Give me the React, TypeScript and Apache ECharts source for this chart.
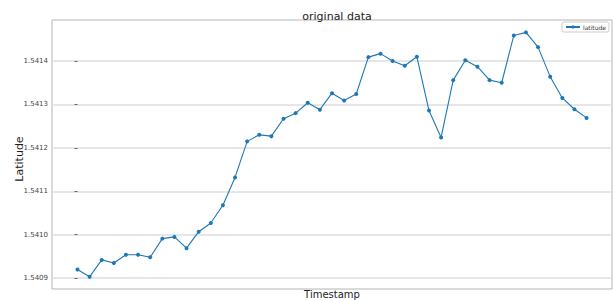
import React, { useEffect, useRef } from "react";
import * as echarts from "echarts";

const seriesName = "latitude";
const titleText = "original data";
const xAxisName = "Timestamp";
const yAxisName = "Latitude";

const latitude: number[] = [
  1.54092, 1.540903, 1.540942, 1.540935, 1.540954, 1.540954, 1.540948, 1.540991,
  1.540995, 1.540969, 1.541007, 1.541027, 1.541068, 1.541132, 1.541215, 1.54123,
  1.541227, 1.541267, 1.54128, 1.541304, 1.541288, 1.541326, 1.541309, 1.541324,
  1.541409, 1.541417, 1.5414, 1.541389, 1.54141, 1.541286, 1.541224, 1.541356,
  1.541402, 1.541387, 1.541356, 1.54135, 1.541459, 1.541466, 1.541432, 1.541364,
  1.541315, 1.541289, 1.541269,
];

const yTicks: number[] = [1.5409, 1.541, 1.5411, 1.5412, 1.5413, 1.5414];

export default function App() {
  const ref = useRef<HTMLDivElement>(null);
  useEffect(() => {
    if (!ref.current) return;
    document.body.style.margin = "0";
    const chart = echarts.init(ref.current, undefined, { renderer: "svg" });
    const n = latitude.length;
    const pad = (n - 1) * 0.05;
    chart.setOption({
      animation: false,
      backgroundColor: "#fff",
      title: {
        text: titleText,
        left: 332,
        top: 6,
        textAlign: "center",
        textStyle: { fontSize: 11, fontWeight: "normal", color: "#222", fontFamily: "DejaVu Sans" },
      },
      legend: {
        right: 5,
        top: 22,
        data: [seriesName],
        itemWidth: 14,
        itemHeight: 4,
        padding: [2, 3, 2, 3],
        borderColor: "#ccc",
        borderWidth: 1,
        borderRadius: 2,
        textStyle: { fontSize: 6, color: "#333", fontFamily: "DejaVu Sans", padding: [0, 0, 0, -2] },
      },
      grid: {
        left: 52,
        right: 2,
        top: 20,
        bottom: 11,
        show: true,
        borderColor: "#b5b5b5",
        borderWidth: 1,
        containLabel: false,
      },
      graphic: [
        {
          type: "text",
          x: 332,
          y: 294,
          style: {
            text: xAxisName,
            fontSize: 10,
            fill: "#222",
            fontFamily: "DejaVu Sans",
            align: "center",
            verticalAlign: "middle",
          },
        },
        {
          type: "text",
          x: 19,
          y: 159,
          rotation: Math.PI / 2,
          style: {
            text: yAxisName,
            fontSize: 11,
            fill: "#222",
            fontFamily: "DejaVu Sans",
            align: "center",
            verticalAlign: "middle",
          },
        },
      ],
      xAxis: {
        type: "value",
        min: -pad,
        max: n - 1 + pad,
        axisLine: { show: false },
        axisTick: { show: false },
        axisLabel: { show: false },
        splitLine: { show: false },
      },
      yAxis: {
        type: "value",
        min: 1.540875,
        max: 1.5414945,
        axisLine: { show: false },
        axisTick: { show: true, length: 3, lineStyle: { color: "#666" }, customValues: yTicks },
        axisLabel: {
          fontSize: 7,
          color: "#444",
          margin: 4,
          fontFamily: "DejaVu Sans",
          customValues: yTicks,
          formatter: (v: number) => v.toFixed(4),
        },
        splitLine: { show: true, lineStyle: { color: "#dedede", width: 1.5 } },
      },
      series: [
        {
          name: seriesName,
          type: "line",
          data: latitude.map((v, i) => [i, v]),
          symbol: "circle",
          symbolSize: 4,
          itemStyle: { color: "#1f77b4" },
          lineStyle: { color: "#1f77b4", width: 1.1 },
          z: 3,
        },
      ],
    });
    return () => chart.dispose();
  }, []);
  return <div ref={ref} style={{ width: 614, height: 300 }} />;
}
